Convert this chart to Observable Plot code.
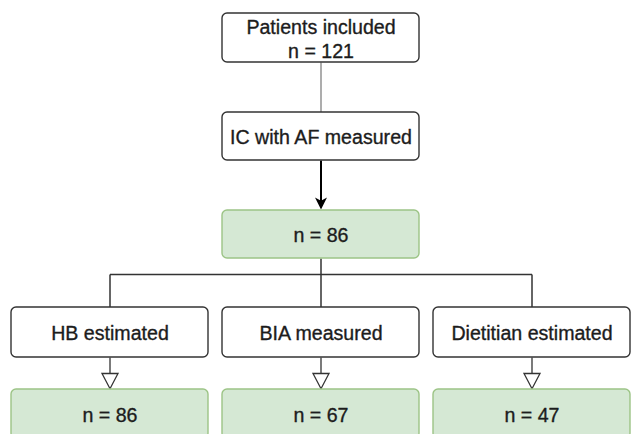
<!DOCTYPE html>
<html>
<head>
<meta charset="utf-8">
<script src="https://cdn.jsdelivr.net/npm/d3@7"></script>
<script src="https://cdn.jsdelivr.net/npm/@observablehq/plot@0.6"></script>
<style>
  html, body { margin: 0; padding: 0; background: #fff; overflow: hidden; }
  #chart svg { display: block; }
</style>
</head>
<body>
<div id="chart"></div>
<script>
// ---- data ----
const stageLabels = ["Patients included", "IC with AF measured"];
const includedN = 121;
const afMeasuredN = 86;
const methodLabels = ["HB estimated", "BIA measured", "Dietitian estimated"];
const methodN = [86, 67, 47];
const columns = ["L", "C", "R"];

// ---- layout (not data) ----
const rowTop = [13, 112, 210, 307, 389];
const rowH = [49, 48, 48, 50, 49];
const splitY = 274;
const W = 632, H = 434;

const nodes = [
  {row: 0, col: "C", text: `${stageLabels[0]}\nn = ${includedN}`, green: false},
  {row: 1, col: "C", text: stageLabels[1], green: false},
  {row: 2, col: "C", text: `n = ${afMeasuredN}`, green: true},
  ...methodLabels.map((m, i) => ({row: 3, col: columns[i], text: m, green: false})),
  ...methodN.map((n, i) => ({row: 4, col: columns[i], text: `n = ${n}`, green: true}))
];
const boxTop = d => rowTop[d.row];
const boxBot = d => rowTop[d.row] + rowH[d.row];
const boxMid = d => rowTop[d.row] + rowH[d.row] / 2;

const methodsData = methodLabels.map((m, i) => ({col: columns[i]}));

const classicArrow = {
  draw(ctx, size) {
    const r = Math.sqrt(size / Math.PI);
    ctx.moveTo(0, r);
    ctx.lineTo(-r, -r);
    ctx.lineTo(0, -r * 0.45);
    ctx.lineTo(r, -r);
    ctx.closePath();
  }
};
const openTriangle = {
  draw(ctx, size) {
    const r = Math.sqrt(size / Math.PI);
    ctx.moveTo(-r, -r);
    ctx.lineTo(r, -r);
    ctx.lineTo(0, r * 0.9);
    ctx.closePath();
  }
};

const chart = Plot.plot({
  width: W,
  height: H,
  margin: 0,
  style: {fontFamily: "'Liberation Sans', Arial, Helvetica, sans-serif", background: "#fff", overflow: "hidden"},
  x: {type: "band", domain: columns, range: [10, 631.5], paddingInner: 0.0664, paddingOuter: 0, axis: null},
  y: {domain: [0, H], range: [0, H], axis: null},
  marks: [
    Plot.link([nodes[0]], {x1: "col", x2: "col", y1: boxBot, y2: () => rowTop[1], stroke: "#8a8a8a", strokeWidth: 1.4}),
    Plot.link([nodes[1]], {x1: "col", x2: "col", y1: boxBot, y2: () => rowTop[2] - 8, stroke: "#000", strokeWidth: 2}),
    Plot.dot([nodes[1]], {x: "col", y: () => rowTop[2] - 7, symbol: classicArrow, r: 6, fill: "#000", stroke: "none"}),
    Plot.link([nodes[2]], {x1: "col", x2: "col", y1: boxBot, y2: () => splitY, stroke: "#333", strokeWidth: 1.5}),
    Plot.link([{a: "L", b: "R"}], {x1: "a", x2: "b", y1: () => splitY, y2: () => splitY, stroke: "#333", strokeWidth: 1.5}),
    Plot.link(methodsData, {x1: "col", x2: "col", y1: () => splitY, y2: () => rowTop[3], stroke: "#333", strokeWidth: 1.5}),
    Plot.link(methodsData, {x1: "col", x2: "col", y1: () => rowTop[3] + rowH[3], y2: () => rowTop[4] - 15, stroke: "#333", strokeWidth: 1.3}),
    Plot.dot(methodsData, {x: "col", y: () => rowTop[4] - 8, symbol: openTriangle, r: 8, fill: "#fff", stroke: "#333", strokeWidth: 1.3}),
    Plot.barY(nodes, {
      x: "col", y1: boxTop, y2: boxBot, rx: 5,
      fill: d => d.green ? "#d5e8d4" : "#ffffff",
      stroke: d => d.green ? "#9cc486" : "#333333",
      strokeWidth: 1.4
    }),
    Plot.text(nodes, {
      x: "col", y: boxMid, text: "text",
      fontSize: 19.6, lineHeight: 1.24, lineAnchor: "middle", textAnchor: "middle",
      fill: "#1c1c1c", stroke: "#1c1c1c", strokeWidth: 0.35
    })
  ]
});
document.getElementById("chart").appendChild(chart);
</script>
</body>
</html>
